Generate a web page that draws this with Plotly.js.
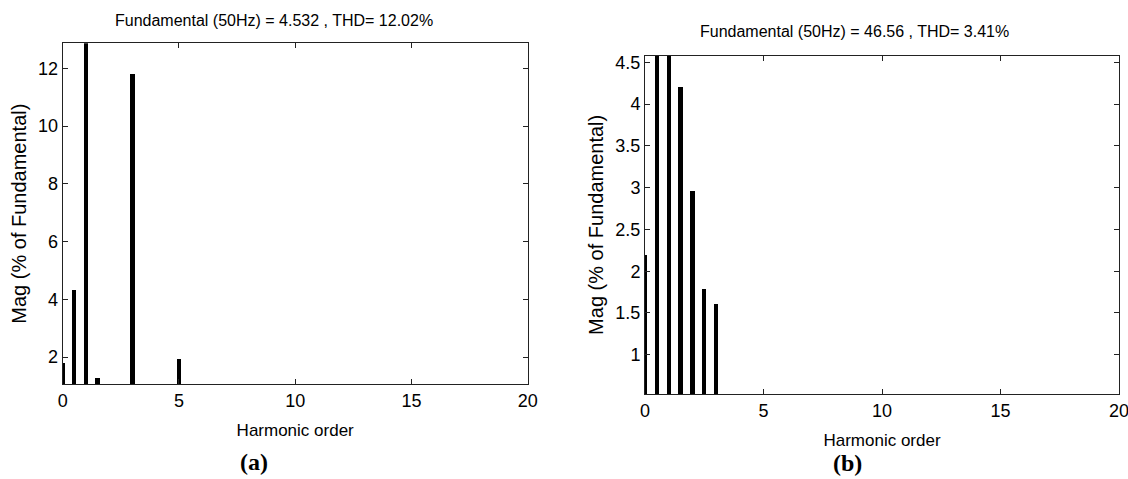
<!DOCTYPE html>
<html>
<head>
<meta charset="utf-8">
<script src="https://cdn.plot.ly/plotly-3.0.1.min.js"></script>
<style>
html,body{margin:0;padding:0;background:#fff;}
#chart{width:1128px;height:479px;}
</style>
</head>
<body>
<div id="chart"></div>
<script>
// Panel (a)
const harmonicA = [0, 0.5, 1, 1.5, 3, 5];
const magA = [1.79, 4.34, 100, 1.28, 11.79, 1.95];
const titleA = "Fundamental (50Hz) = 4.532 , THD= 12.02%";
// Panel (b)
const harmonicB = [0, 0.5, 1, 1.5, 2, 2.5, 3];
const magB = [2.19, 6.0, 100, 4.20, 2.96, 1.79, 1.61];
const titleB = "Fundamental (50Hz) = 46.56 , THD= 3.41%";
// Axis ticks
const xTicks = [0, 5, 10, 15, 20];
const yTicksA = [2, 4, 6, 8, 10, 12];
const yTicksB = [1, 1.5, 2, 2.5, 3, 3.5, 4, 4.5];
const xLabel = "Harmonic order";
const yLabel = "Mag (% of Fundamental)";
const captions = ["(a)", "(b)"];

const W = 1128, H = 479;
const sans = "Liberation Sans, Arial, sans-serif";
const serif = "Liberation Serif, Times New Roman, serif";

const traces = [
  {type: 'bar', x: harmonicA, y: magA, width: 0.18, marker: {color: '#000', line: {width: 0}},
   xaxis: 'x', yaxis: 'y', showlegend: false, hoverinfo: 'x+y'},
  {type: 'bar', x: harmonicB, y: magB, width: 0.18, marker: {color: '#000', line: {width: 0}},
   xaxis: 'x2', yaxis: 'y2', showlegend: false, hoverinfo: 'x+y'}
];

function px(x){ return x / W; }
function py(y){ return 1 - y / H; }

const axisCommon = {
  showgrid: false, zeroline: false, showline: true, linecolor: '#222', linewidth: 1,
  mirror: 'ticks', ticks: 'inside', ticklen: 5, tickcolor: '#222', tickwidth: 1,
  ticklabeloverflow: 'allow',
  tickfont: {family: sans, size: 18, color: '#000'}
};

const layout = {
  width: W, height: H,
  margin: {l: 0, r: 0, t: 0, b: 0},
  paper_bgcolor: '#fff', plot_bgcolor: '#fff',
  bargap: 0,
  xaxis: Object.assign({}, axisCommon, {
    domain: [px(62.7), px(527.7)], range: [0, 20], tickvals: xTicks, anchor: 'y',
    title: {text: xLabel, font: {family: sans, size: 17, color: '#000'}, standoff: 14}
  }),
  yaxis: Object.assign({}, axisCommon, {
    domain: [py(384), py(43.3)], range: [1.07, 12.87], tickvals: yTicksA, anchor: 'x',
    title: {text: yLabel, font: {family: sans, size: 20, color: '#000'}, standoff: 6}
  }),
  xaxis2: Object.assign({}, axisCommon, {
    domain: [px(645), px(1119)], range: [0, 20], tickvals: xTicks, anchor: 'y2',
    title: {text: xLabel, font: {family: sans, size: 17, color: '#000'}, standoff: 14}
  }),
  yaxis2: Object.assign({}, axisCommon, {
    domain: [py(394), py(55.7)], range: [0.53, 4.58], tickvals: yTicksB, anchor: 'x2',
    title: {text: yLabel, font: {family: sans, size: 20, color: '#000'}, standoff: 6}
  }),
  annotations: [
    {text: titleA, xref: 'paper', yref: 'paper', x: px(274), y: py(20), showarrow: false,
     xanchor: 'center', yanchor: 'middle', font: {family: sans, size: 16, color: '#000'}},
    {text: titleB, xref: 'paper', yref: 'paper', x: px(854), y: py(31), showarrow: false,
     xanchor: 'center', yanchor: 'middle', font: {family: sans, size: 16, color: '#000'}},
    {text: '<b>' + captions[0] + '</b>', xref: 'paper', yref: 'paper', x: px(254), y: py(462), showarrow: false,
     xanchor: 'center', yanchor: 'middle', font: {family: serif, size: 24, color: '#000'}},
    {text: '<b>' + captions[1] + '</b>', xref: 'paper', yref: 'paper', x: px(847), y: py(463), showarrow: false,
     xanchor: 'center', yanchor: 'middle', font: {family: serif, size: 24, color: '#000'}}
  ]
};

Plotly.newPlot('chart', traces, layout, {displayModeBar: false, staticPlot: true});
</script>
</body>
</html>
